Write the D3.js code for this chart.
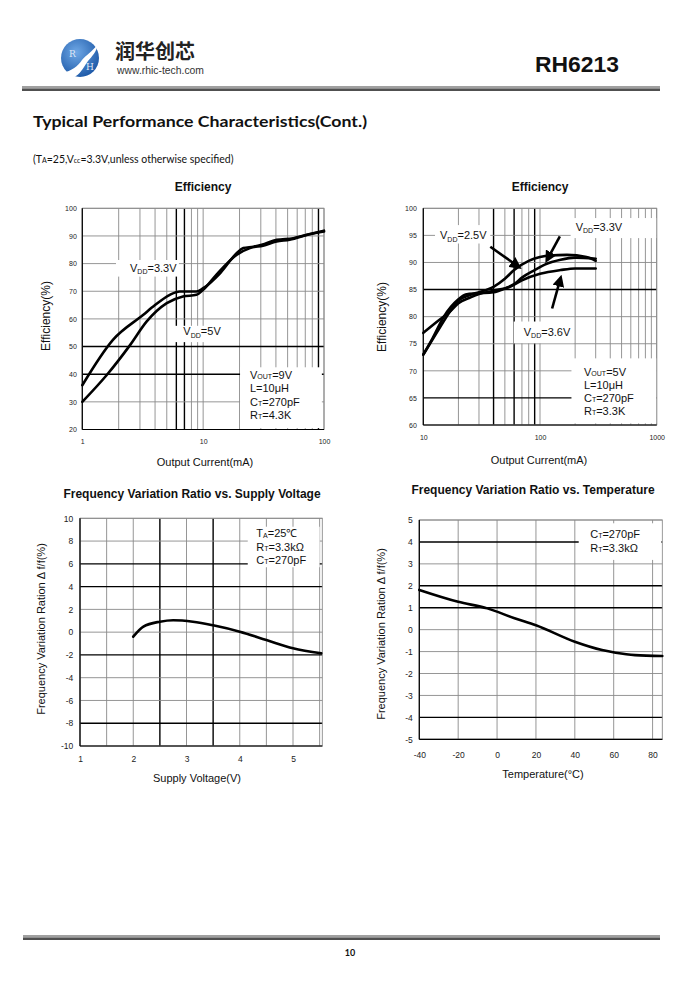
<!DOCTYPE html>
<html>
<head>
<meta charset="utf-8">
<title>RH6213 Typical Performance Characteristics</title>
<script src="https://d3js.org/d3.v7.min.js"></script>
<style>
  body { margin: 0; background: #fff; }
  svg text { font-family: Arial, "Liberation Sans", sans-serif; fill: #111; }
</style>
</head>
<body>
<svg id="page"></svg>
<script>
// ---- values ----

// Efficiency, VOUT = 9V (left)
const eff1Vdd33Current = [1, 1.8, 3.2, 4, 5.3, 6.4, 8.8, 10, 13.8, 19, 21.5, 26, 30.5, 40.6, 55.7, 72, 100];
const eff1Vdd33Eff     = [36, 52.5, 61.5, 65, 68.7, 69.9, 69.9, 71.1, 76.5, 83.8, 85.6, 86.1, 86.8, 88.6, 89.2, 90.4, 91.9];
const eff1Vdd5Current  = [1, 1.6, 2.5, 3.4, 5, 6.8, 8.8, 10, 12.9, 19, 24.4, 31.3, 40.5, 52, 76, 100];
const eff1Vdd5Eff      = [30, 39.8, 50.7, 59, 65.7, 68.1, 68.7, 70.5, 76, 83.2, 85.6, 86.5, 88, 88.6, 90.6, 91.6];
const eff1YTicks = [20, 30, 40, 50, 60, 70, 80, 90, 100];
const eff1XTicks = [1, 10, 100];

// Efficiency, VOUT = 5V (right)
const eff2Vdd25Current = [10, 13, 17, 20, 25, 30, 40, 50, 60, 80, 100, 120, 170, 250, 300];
const eff2Vdd25Eff     = [73, 77, 81, 83, 84, 84.5, 85.5, 87, 88.6, 90.3, 91, 91.3, 91.4, 91, 90.3];
const eff2Vdd33Current = [10, 12, 15, 20, 23, 30, 40, 50, 60, 70, 90, 110, 150, 200, 300];
const eff2Vdd33Eff     = [73, 76, 80, 83.2, 84.1, 84.3, 84.5, 85.2, 86, 87.2, 88.6, 89.6, 90.5, 90.9, 90.7];
const eff2Vdd36Current = [10, 13, 17, 20, 25, 30, 40, 55, 70, 100, 150, 200, 300];
const eff2Vdd36Eff     = [77, 79, 81, 82.5, 83.5, 84.2, 84.8, 85.5, 86.7, 87.9, 88.6, 88.9, 88.9];
const eff2YTicks = [60, 65, 70, 75, 80, 85, 90, 95, 100];
const eff2XTicks = [10, 100, 1000];

// Frequency variation vs supply voltage
const fvVoltage = [2.0, 2.19, 2.5, 2.75, 3.12, 3.5, 4.0, 4.5, 5.0, 5.53];
const fvRatio   = [-0.4, 0.48, 0.92, 1.05, 0.92, 0.6, 0.04, -0.69, -1.42, -1.86];
const fvYTicks = [-10, -8, -6, -4, -2, 0, 2, 4, 6, 8, 10];
const fvXTicks = [1, 2, 3, 4, 5];

// Frequency variation vs temperature
const ftTemp  = [-40, -20, -5, 9, 20, 40, 54, 61, 71, 85];
const ftRatio = [1.81, 1.27, 0.97, 0.52, 0.2, -0.55, -0.93, -1.05, -1.16, -1.2];
const ftYTicks = [-5, -4, -3, -2, -1, 0, 1, 2, 3, 4, 5];
const ftXTicks = [-40, -20, 0, 20, 40, 60, 80];

const W = 700, H = 990;
const svg = d3.select("#page").attr("width", W).attr("height", H);

// text with small subscripts, parts = [[str, isSub], ...]
function richText(g, parts, x, y, size, subShift) {
    const t = g.append("text").attr("x", x).attr("y", y).attr("font-size", size);
    let shift = 0;
    parts.forEach(([s, sub]) => {
        const want = sub ? subShift : 0;
        t.append("tspan")
            .attr("dy", want - shift)
            .attr("font-size", sub ? size * 0.64 : size)
            .text(s);
        shift = want;
    });
    return t;
}

// ---------------- page header ----------------
const defs = svg.append("defs");
const grad = defs.append("radialGradient").attr("id", "logoGrad")
    .attr("cx", "40%").attr("cy", "35%").attr("r", "70%");
grad.append("stop").attr("offset", "0%").attr("stop-color", "#6fa8e6");
grad.append("stop").attr("offset", "100%").attr("stop-color", "#1b57a6");

svg.append("circle").attr("cx", 80).attr("cy", 58).attr("r", 19).attr("fill", "url(#logoGrad)");
svg.append("path")
    .attr("d", "M97,45 C92,52 86,55 82,60 C78,66 72,71 62,73 C66,78 72,78 76,76 C82,72 84,66 88,61 C92,56 97,52 97,45 Z")
    .attr("fill", "#fff");
svg.append("text").attr("x", 69).attr("y", 57).attr("font-size", 9)
    .style("font-family", "'DejaVu Serif', serif").style("fill", "#dfe8f5").text("R");
svg.append("text").attr("x", 86).attr("y", 70).attr("font-size", 9)
    .style("font-family", "'DejaVu Serif', serif").style("fill", "#dfe8f5").text("H");

svg.append("text").attr("x", 115).attr("y", 59).attr("font-size", 20)
    .attr("font-weight", "bold")
    .style("font-family", "'Noto Sans CJK SC', sans-serif").style("fill", "#222")
    .text("润华创芯");
svg.append("text").attr("x", 117).attr("y", 74).attr("font-size", 10)
    .attr("textLength", 87).attr("lengthAdjust", "spacingAndGlyphs")
    .style("fill", "#333").text("www.rhic-tech.com");

svg.append("text").attr("x", 535).attr("y", 72).attr("font-size", 22)
    .attr("font-weight", "bold").attr("textLength", 84).attr("lengthAdjust", "spacingAndGlyphs")
    .text("RH6213");

svg.append("rect").attr("x", 22).attr("y", 86).attr("width", 638).attr("height", 2.5).attr("fill", "#a0a0a0");
svg.append("rect").attr("x", 22).attr("y", 88.5).attr("width", 638).attr("height", 2.5).attr("fill", "#505050");

svg.append("text").attr("x", 33).attr("y", 127).attr("font-size", 16)
    .attr("font-weight", "bold").attr("textLength", 334).attr("lengthAdjust", "spacingAndGlyphs")
    .style("font-family", "Lato, 'Open Sans', sans-serif")
    .text("Typical Performance Characteristics(Cont.)");

const sub = svg.append("text").attr("x", 33).attr("y", 163).attr("font-size", 10.5)
    .style("font-family", "Lato, 'Open Sans', sans-serif");
sub.append("tspan").text("(T");
sub.append("tspan").attr("font-size", 7).text("A");
sub.append("tspan").text("=25,V");
sub.append("tspan").attr("font-size", 7).text("cc");
sub.append("tspan").text("=3.3V,unless otherwise specified)");

// ---------------- footer ----------------
svg.append("rect").attr("x", 23).attr("y", 935).attr("width", 637).attr("height", 2.5).attr("fill", "#a0a0a0");
svg.append("rect").attr("x", 23).attr("y", 937.5).attr("width", 637).attr("height", 2.5).attr("fill", "#505050");
svg.append("text").attr("x", 350).attr("y", 956).attr("font-size", 9).attr("text-anchor", "middle")
    .style("font-family", "Lato, sans-serif").attr("font-weight", "bold").text("10");

// ---------------- panels ----------------
const GRID = "#8a8a8a";

function drawPanel(p) {
    const g = svg.append("g");
    const x = p.x, y = p.y;
    const [xl, xr] = x.range(), [yb, yt] = y.range();

    // grid
    g.selectAll(".vg").data(p.xGrid).join("line")
        .attr("x1", d => x(d)).attr("x2", d => x(d)).attr("y1", yb).attr("y2", yt)
        .attr("stroke", d => p.xDark.includes(d) ? "#000" : GRID)
        .attr("stroke-width", d => p.xDark.includes(d) ? 1.4 : 0.9);
    g.selectAll(".hg").data(p.yGrid).join("line")
        .attr("y1", d => y(d)).attr("y2", d => y(d)).attr("x1", xl).attr("x2", xr)
        .attr("stroke", d => p.yDark.includes(d) ? "#000" : GRID)
        .attr("stroke-width", d => p.yDark.includes(d) ? 1.4 : 0.9);
    g.append("rect").attr("x", xl).attr("y", yt).attr("width", xr - xl).attr("height", yb - yt)
        .attr("fill", "none").attr("stroke", GRID).attr("stroke-width", 0.9);

    // white label boxes over the grid
    g.selectAll(".box").data(p.boxes).join("rect")
        .attr("x", b => x(b.x0)).attr("y", b => y(b.y1))
        .attr("width", b => x(b.x1) - x(b.x0)).attr("height", b => y(b.y0) - y(b.y1))
        .attr("fill", "#fff");

    // axis lines
    g.append("line").attr("x1", xl).attr("x2", xl).attr("y1", yb).attr("y2", yt).attr("stroke", "#000").attr("stroke-width", 1.2);
    g.append("line").attr("x1", xl).attr("x2", xr).attr("y1", yb).attr("y2", yb).attr("stroke", "#000").attr("stroke-width", 1.2);

    // tick labels (plain hyphen for negatives, as in the datasheet)
    const fmt = d => String(d);
    const ay = g.append("g").attr("transform", `translate(${xl},0)`)
        .call(d3.axisLeft(y).tickValues(p.yTicks).tickSize(0).tickPadding(p.yPad).tickFormat(fmt));
    const ax = g.append("g").attr("transform", `translate(0,${yb})`)
        .call(d3.axisBottom(x).tickValues(p.xTicks).tickSize(0).tickPadding(p.xPad).tickFormat(fmt));
    [ay, ax].forEach(a => {
        a.select(".domain").remove();
        a.selectAll("text").attr("font-size", p.tickSize).style("font-family", "Arial, 'Liberation Sans', sans-serif").style("fill", "#222");
    });

    // curves
    const line = d3.line().x(d => x(d[0])).y(d => y(d[1])).curve(d3.curveMonotoneX);
    p.series.forEach(s => {
        g.append("path").datum(d3.zip(s.x, s.y)).attr("d", line)
            .attr("fill", "none").attr("stroke", "#000").attr("stroke-width", 2.6)
            .attr("stroke-linejoin", "round").attr("stroke-linecap", "round");
    });

    // arrows
    (p.arrows || []).forEach(a => {
        g.append("line").attr("x1", x(a.x0)).attr("y1", y(a.y0)).attr("x2", x(a.x1)).attr("y2", y(a.y1))
            .attr("stroke", "#000").attr("stroke-width", 2.6).attr("marker-end", "url(#arrowHead)");
    });

    // curve labels
    p.labels.forEach(l => richText(g, l.parts, x(l.x), y(l.y), 11, 2.5));

    // condition block
    const b = p.block;
    b.lines.forEach((parts, i) => richText(g, parts, x(b.x), y(b.y) + i * b.step, 11, 0.3));

    // titles
    g.append("text").attr("x", p.title[1]).attr("y", p.title[2]).attr("text-anchor", "middle")
        .attr("font-size", 12).attr("font-weight", "bold").text(p.title[0]);
    g.append("text").attr("x", p.xLabel[1]).attr("y", p.xLabel[2]).attr("text-anchor", "middle")
        .attr("font-size", 11).text(p.xLabel[0]);
    g.append("text").attr("transform", `translate(${p.yLabel[1]},${p.yLabel[2]}) rotate(-90)`)
        .attr("text-anchor", "middle").attr("font-size", p.yLabel[3]).text(p.yLabel[0]);
}

defs.append("marker").attr("id", "arrowHead")
    .attr("viewBox", "0 0 10 10").attr("refX", 7).attr("refY", 5)
    .attr("markerWidth", 4.6).attr("markerHeight", 4.6).attr("orient", "auto")
    .attr("markerUnits", "strokeWidth")
    .append("path").attr("d", "M0,0 L10,5 L0,10 Z").attr("fill", "#000");

const vdd = v => [["V"], ["DD", true], ["=" + v]];

// Efficiency left
const x1 = d3.scaleLog().domain([1, 100]).range([82.3, 324]);
const y1 = d3.scaleLinear().domain([20, 100]).range([429.5, 208.3]);
drawPanel({
    x: x1, y: y1,
    xGrid: x1.ticks(), yGrid: eff1YTicks,
    xDark: [6, 7, 90], yDark: [40, 50],
    xTicks: eff1XTicks, yTicks: eff1YTicks, xPad: 9.5, yPad: 5.5, tickSize: 7,
    boxes: [
        { x0: 1.9, x1: 6.3, y0: 75.3, y1: 81.3 },
        { x0: 5.8, x1: 16, y0: 51.6, y1: 57.5 },
        { x0: 20.2, x1: 96, y0: 20.5, y1: 42.5 }
    ],
    series: [
        { x: eff1Vdd33Current, y: eff1Vdd33Eff },
        { x: eff1Vdd5Current, y: eff1Vdd5Eff }
    ],
    labels: [
        { parts: vdd("3.3V"), x: 2.48, y: 77 },
        { parts: vdd("5V"), x: 6.86, y: 54.1 }
    ],
    block: { x: 24.4, y: 38.2, step: 13.3, lines: [
        [["V"], ["OUT", true], ["=9V"]],
        [["L=10μH"]],
        [["C"], ["T", true], ["=270pF"]],
        [["R"], ["T", true], ["=4.3K"]]
    ] },
    title: ["Efficiency", 203, 191],
    xLabel: ["Output Current(mA)", 205, 466],
    yLabel: ["Efficiency(%)", 50, 316, 12]
});

// Efficiency right
const x2 = d3.scaleLog().domain([10, 1000]).range([423.3, 656.7]);
const y2 = d3.scaleLinear().domain([60, 100]).range([425, 208.3]);
drawPanel({
    x: x2, y: y2,
    xGrid: x2.ticks(), yGrid: eff2YTicks,
    xDark: [40, 60, 90], yDark: [65, 85],
    xTicks: eff2XTicks, yTicks: eff2YTicks, xPad: 10.5, yPad: 6.5, tickSize: 7,
    boxes: [
        { x0: 12.6, x1: 37.5, y0: 93.5, y1: 96.9 },
        { x0: 183, x1: 990, y0: 94.5, y1: 98.2 },
        { x0: 59.5, x1: 195, y0: 75.1, y1: 79.1 },
        { x0: 186, x1: 990, y0: 60.3, y1: 72.3 }
    ],
    series: [
        { x: eff2Vdd25Current, y: eff2Vdd25Eff },
        { x: eff2Vdd33Current, y: eff2Vdd33Eff },
        { x: eff2Vdd36Current, y: eff2Vdd36Eff }
    ],
    arrows: [
        { x0: 37.5, y0: 92.9, x1: 65.7, y1: 89.2 },
        { x0: 148, y0: 94.8, x1: 115, y1: 90.5 },
        { x0: 127, y0: 81.5, x1: 150, y1: 87.1 }
    ],
    labels: [
        { parts: vdd("2.5V"), x: 13.9, y: 94.3 },
        { parts: vdd("3.3V"), x: 202, y: 95.9 },
        { parts: vdd("3.6V"), x: 72.6, y: 76.5 }
    ],
    block: { x: 238, y: 69.1, step: 13.1, lines: [
        [["V"], ["OUT", true], ["=5V"]],
        [["L=10μH"]],
        [["C"], ["T", true], ["=270pF"]],
        [["R"], ["T", true], ["=3.3K"]]
    ] },
    title: ["Efficiency", 540, 191],
    xLabel: ["Output Current(mA)", 539, 464],
    yLabel: ["Efficiency(%)", 386, 317, 12]
});

// Frequency vs supply voltage
const x3 = d3.scaleLinear().domain([1, 5.55]).range([80, 322.3]);
const y3 = d3.scaleLinear().domain([-10, 10]).range([746, 518.3]);
drawPanel({
    x: x3, y: y3,
    xGrid: d3.range(1, 5.6, 0.5), yGrid: fvYTicks,
    xDark: [2.5, 3.5], yDark: [6, 4, -2, -8],
    xTicks: fvXTicks, yTicks: fvYTicks, xPad: 10, yPad: 6.7, tickSize: 8.5,
    boxes: [{ x0: 4.15, x1: 5.5, y0: 5.7, y1: 9.26 }],
    series: [{ x: fvVoltage, y: fvRatio }],
    labels: [],
    block: { x: 4.31, y: 8.32, step: 13.3, lines: [
        [["T"], ["A", true], ["=25℃"]],
        [["R"], ["T", true], ["=3.3kΩ"]],
        [["C"], ["T", true], ["=270pF"]]
    ] },
    title: ["Frequency Variation Ratio vs. Supply Voltage", 192, 497.5],
    xLabel: ["Supply Voltage(V)", 197, 782],
    yLabel: ["Frequency Variation Ration Δ f/f(%)", 44.5, 629, 11]
});

// Frequency vs temperature
const x4 = d3.scaleLinear().domain([-40, 85]).range([419.3, 662.3]);
const y4 = d3.scaleLinear().domain([-5, 5]).range([739.3, 520]);
drawPanel({
    x: x4, y: y4,
    xGrid: d3.range(-40, 81, 20), yGrid: ftYTicks,
    xDark: [], yDark: [4, 2, 1, -4],
    xTicks: ftXTicks, yTicks: ftYTicks, xPad: 12.5, yPad: 6.6, tickSize: 8.5,
    boxes: [{ x0: 42, x1: 84.5, y0: 3.18, y1: 4.85 }],
    series: [{ x: ftTemp, y: ftRatio }],
    labels: [],
    block: { x: 47.9, y: 4.2, step: 14.3, lines: [
        [["C"], ["T", true], ["=270pF"]],
        [["R"], ["T", true], ["=3.3kΩ"]]
    ] },
    title: ["Frequency Variation Ratio vs. Temperature", 533, 494],
    xLabel: ["Temperature(°C)", 543, 778],
    yLabel: ["Frequency Variation Ration Δ f/f(%)", 385, 634, 11]
});
</script>
</body>
</html>
